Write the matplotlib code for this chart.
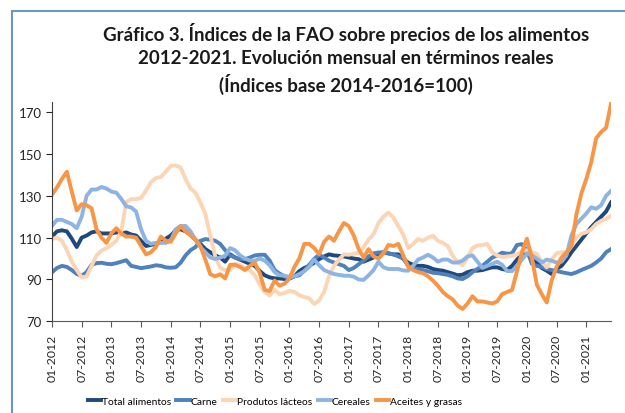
import matplotlib
matplotlib.use('Agg')
import matplotlib.pyplot as plt
from matplotlib.patches import Rectangle
import numpy as np

plt.rcParams['font.family'] = ['Lato', 'DejaVu Sans']

# monthly values, 01-2012 .. 06-2021
total = [110.5, 113, 113.5, 113, 109.5, 105.5, 110, 111, 112.5, 113, 112, 112,
         112, 112.5, 112, 112.5, 111.5, 111, 108.5, 106, 106.5, 107, 108, 109.5,
         111, 113.5, 114, 113, 111.5, 109, 107, 104.5, 103, 101.5, 100.5, 98.5,
         102, 100.5, 99.5, 98.5, 97.5, 96.5, 94, 92, 91, 90.5, 90.5, 90.2,
         90.5, 91.5, 94, 95.5, 96.5, 98, 99.7, 101, 102, 101.5, 101.3, 101,
         100.5, 100, 99.7, 98.5, 99.5, 100.5, 102.5, 103, 102.5, 102, 102, 100,
         98, 97, 96.5, 96.5, 96, 95, 94.5, 94.2, 93.5, 92.8, 92, 92.3,
         93.5, 94.2, 94.2, 94.5, 95.2, 95.8, 95.8, 95, 94.5, 96.5, 99.5, 102,
         102.5, 101.5, 98, 95.5, 94.2, 92.6, 95, 96.5, 99.5, 103, 106, 109,
         112, 115, 117.5, 120, 122.5, 126.8]
carne = [93.4, 95.5, 96.5, 96, 94.5, 92.6, 91.8, 93.5, 97, 97.8, 98, 97.5,
         97.3, 97.8, 98.5, 99.2, 96.5, 96, 95.4, 95.8, 96.2, 96.8, 96.5, 95.8,
         95.6, 95.8, 98, 101.5, 104, 105.5, 108.5, 109.3, 109, 108.5, 107, 104,
         101.5, 100.5, 99.7, 99.7, 100.5, 101.5, 101.8, 101.8, 99, 94.5, 92.8, 91.5,
         90.5, 91.5, 92, 94.2, 97, 99.8, 101.8, 100.5, 99, 98.1, 97.3, 96.5,
         94.5, 95.5, 97.3, 99, 101, 102.5, 102.9, 102.8, 102.4, 102, 101, 100,
         96.5, 95.2, 94.8, 94.5, 93.9, 93.2, 93, 92.6, 92.2, 91.5, 90.5, 90.2,
         91.5, 93.5, 95, 96.5, 98.5, 100.5, 101.5, 102.8, 102.3, 102.5, 106.5, 106.9,
         104, 97.5, 96.5, 96, 95, 94.5, 94, 93.5, 93, 92.6, 93.4, 94.5,
         95.5, 96.5, 98.1, 100, 103, 104.5]
lacteos = [109.3, 110, 108.5, 104, 98.5, 94.5, 91, 91.5, 96.5, 101.5, 103.8, 105,
           106.5, 108.5, 113, 127, 128.4, 128.4, 129, 132.5, 136.5, 138.5, 139, 141.5,
           144.3, 144.5, 143.5, 138, 133.5, 131.5, 126.8, 121.2, 111, 101, 95.5, 94.5,
           94.5, 97.5, 97, 95.5, 94.4, 92, 87.5, 84, 82.3, 85, 83, 83.5,
           84.6, 84, 82.5, 81.6, 81, 78.3, 80, 84, 91.5, 96.5, 99.5, 102,
           101.8, 102.3, 102.8, 105.5, 109, 111.7, 117, 120, 122, 119.6, 115.5, 111.5,
           105, 107, 109.3, 108.5, 110, 110.9, 108.5, 107.5, 106, 101.3, 98.2, 96.8,
           100.5, 105, 106.2, 106.5, 106.9, 103, 101.5, 100.7, 101, 101.3, 102, 103.5,
           104, 103, 102.3, 98.5, 95.8, 99.5, 102.5, 103, 103, 105.8, 110, 111.8,
           112.5, 114, 116.5, 118, 119, 120.4]
cereales = [115.6, 118.5, 118.5, 117.5, 116.5, 114.5, 120, 130, 133, 133, 134.2, 133.5,
            132, 131.5, 128.5, 125, 124.4, 122.5, 114, 108.5, 107, 107.5, 107.5, 107.5,
            108.5, 114, 115.6, 115.6, 113, 109, 105.5, 103, 100.5, 99.8, 100.5, 101.3,
            105, 104, 101.5, 100, 99, 99, 100, 99, 96.8, 93.5, 92, 91.8,
            91.2, 91.5, 92.6, 94, 96, 99.5, 96.8, 94.5, 93.5, 92.6, 92.2, 91.8,
            91.8, 91.3, 90, 89.8, 92, 94.5, 98.5, 95.8, 95, 95, 95, 94.3,
            94.2, 96.5, 99.5, 100.5, 101.8, 100.5, 98.5, 99.5, 99.5, 98.1, 98.1, 99,
            101, 101.5, 98.5, 95.5, 96.5, 97.5, 98.5, 97, 94, 94, 96.5, 99.5,
            102.5, 101.5, 100, 98.1, 99.5, 99, 98.1, 98.5, 101.5, 111, 116.5, 119,
            121.5, 124.5, 123.8, 125.5, 130, 132.3]
aceites = [130.5, 134, 138, 141.5, 132, 123, 126, 125.5, 124, 114, 110, 107.5,
           112, 114.5, 112, 110.5, 110.5, 110, 106, 102, 103, 105.5, 110.5, 108.5,
           108, 112, 115.5, 113, 111, 109, 106, 99.5, 92.5, 91.5, 92.5, 90.5,
           97, 97, 96, 94.5, 96.5, 98, 93, 85, 84.5, 89.5, 87, 88,
           90.5, 96, 100, 107, 107, 105, 102, 108, 110.5, 108.5, 113, 117,
           115.5, 111, 104.5, 100.5, 104.5, 101, 100, 102.5, 106.5, 106, 107, 101.5,
           96, 94.5, 93.5, 93, 91.5, 89.5, 87, 84, 82, 80.5, 77.5, 75.9,
           78.5, 82, 79.5, 79.5, 79, 78.5, 79.5, 83, 84, 85, 94, 103,
           109.5, 100.5, 87.5, 83, 79, 89.5, 96, 100.5, 103, 106, 121, 131,
           138, 146, 157.5, 160.5, 162.5, 174]

series_names = ['Total alimentos', 'Carne', 'Produtos lácteos', 'Cereales', 'Aceites y grasas']
series_vals = [total, carne, lacteos, cereales, aceites]
colors = ['#1f497d', '#4f81bd', '#fcd5b5', '#8eb4e3', '#f79646']

months = [f'{m:02d}-{y}' for y in range(2012, 2022) for m in range(1, 13)][:len(total)]

fig = plt.figure(figsize=(6.25, 4.14), dpi=100)
ax = fig.add_axes([0.0832, 0.2215, 0.8944, 0.5305])

x = np.arange(len(total))
for name, vals, c in zip(series_names, series_vals, colors):
    ax.plot(x, vals, color=c, lw=2.8, label=name, solid_joinstyle='round')

ax.set_xlim(0, len(total) - 1)
ax.set_ylim(70, 175)
ax.set_yticks(np.arange(70, 171, 20))
ax.set_xticks(x[::6])
ax.set_xticklabels(months[::6], rotation=90, fontsize=8.8, color='#262626')
ax.tick_params(axis='y', labelsize=9.5, colors='#262626', length=4, width=0.8)
ax.tick_params(axis='x', length=4, width=0.8, color='#595959', pad=5)
for s in ['top', 'right']:
    ax.spines[s].set_visible(False)
ax.spines['left'].set_color('#404040')
ax.spines['bottom'].set_color('#595959')

fig.text(0.554, 0.857, 'Gráfico 3. Índices de la FAO sobre precios de los alimentos\n'
         '2012-2021. Evolución mensual en términos reales\n'
         '(Índices base 2014-2016=100)',
         ha='center', va='center', fontsize=13.5, fontweight='bold',
         linespacing=1.42, color='#1a1a1a')

fig.legend(loc='center', bbox_to_anchor=(0.44, 0.028), ncol=5, frameon=False,
           fontsize=7.4, handlelength=1.3, handletextpad=0.1, columnspacing=0.5)

fig.add_artist(Rectangle((12 / 625, -0.1), 1.2, 0.1 + (414 - 12) / 414,
                         transform=fig.transFigure, fill=False,
                         edgecolor='#6d94c8', lw=1.5))

fig.savefig('out.png', dpi=100)
